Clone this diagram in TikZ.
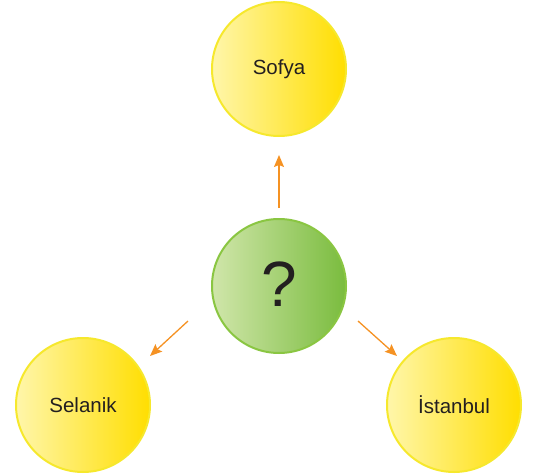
\documentclass[tikz,border=0pt]{standalone}
\usepackage{fontspec}
\setmainfont{Liberation Sans}
\usetikzlibrary{arrows.meta}
\definecolor{yL}{RGB}{255,246,170}
\definecolor{yM}{RGB}{255,236,10}
\definecolor{yR}{RGB}{255,222,0}
\definecolor{yB}{RGB}{246,232,45}
\definecolor{gL}{RGB}{208,230,170}
\definecolor{gR}{RGB}{122,188,62}
\definecolor{gB}{RGB}{138,198,66}
\definecolor{arrC}{RGB}{245,146,35}
\definecolor{txt}{RGB}{35,31,32}
\tikzset{
  city/.style={circle, draw=yB, line width=2pt, minimum size=134pt, inner sep=0pt,
    left color=yL, middle color=yM, right color=yR, text=txt,
    font=\fontsize{20.5}{24}\selectfont},
  hub/.style={circle, draw=gB, line width=2pt, minimum size=134pt, inner sep=0pt,
    left color=gL, right color=gR, text=txt,
    font=\fontsize{64}{70}\selectfont},
  arr/.style={draw=arrC, line width=1.3pt, -{Stealth[length=12pt,width=10pt,inset=2pt]}}
}
\begin{document}
\begin{tikzpicture}[x=1pt,y=-1pt]
\useasboundingbox (0,0) rectangle (533,474);
\node[city] (sofya) at (279,69) {Sofya};
\node[hub] (q) at (279,286) {\raisebox{3pt}{?}};
\node[city] (selanik) at (83,405) {Selanik};
\node[city] (istanbul) at (454,405) {İstanbul};
\coordinate (u1) at (279,208);
\coordinate (u2) at (279,155);
\coordinate (l1) at (188,321);
\coordinate (l2) at (150,356);
\coordinate (r1) at (358,321);
\coordinate (r2) at (397,356);
\draw[arr] (u1) -- (u2);
\draw[arr] (l1) -- (l2);
\draw[arr] (r1) -- (r2);
\end{tikzpicture}
\end{document}
